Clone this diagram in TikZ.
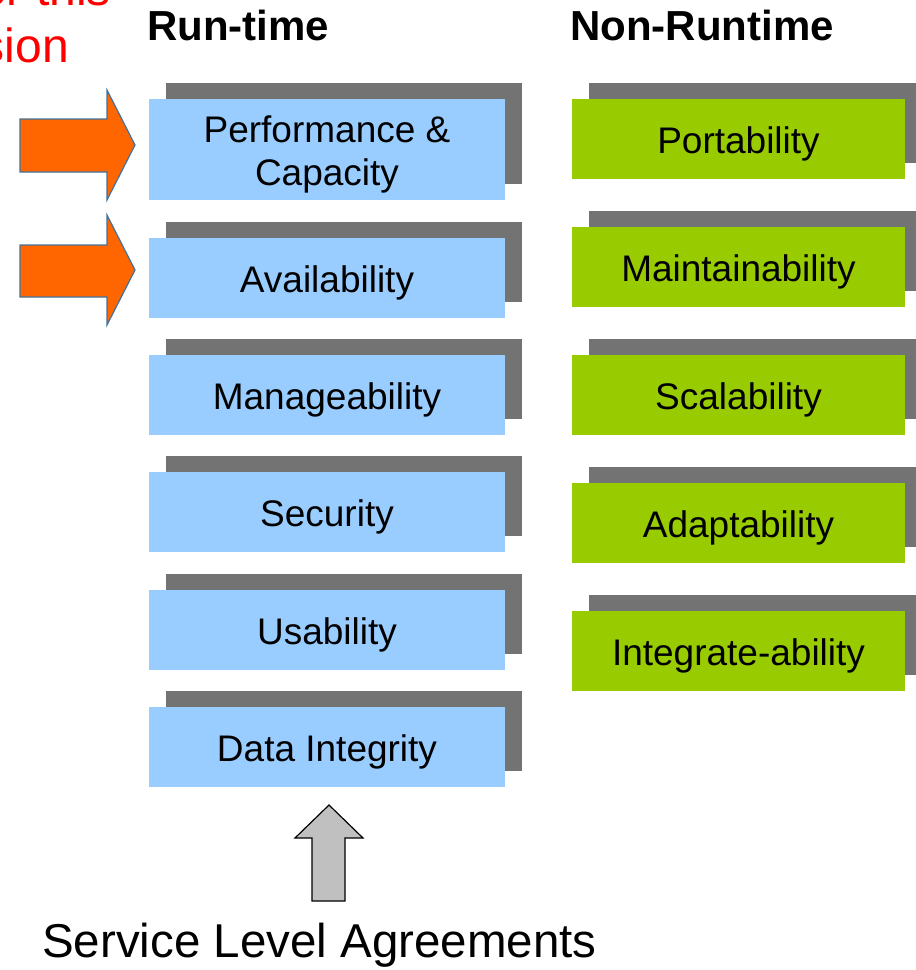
\documentclass[tikz,border=0pt]{standalone}
\usepackage{fontspec}
\setmainfont{Liberation Sans}
\usetikzlibrary{shadows}
\definecolor{boxblue}{HTML}{99CCFF}
\definecolor{boxgreen}{HTML}{99CC00}
\definecolor{shadowgray}{HTML}{737373}
\definecolor{arroworange}{HTML}{FF6600}
\definecolor{arrowedge}{HTML}{41719C}
\definecolor{slagray}{HTML}{C0C0C0}
\tikzset{
  qbox/.style={inner sep=0pt, font=\fontsize{37}{43}\selectfont,
    text height=28pt, text depth=0pt,
    general shadow={fill=shadowgray, shadow xshift=17pt, shadow yshift=16pt}},
  runbox/.style={qbox, fill=boxblue, minimum width=356pt, minimum height=80pt},
  nonbox/.style={qbox, fill=boxgreen, minimum width=333pt, minimum height=80pt},
  heading/.style={anchor=base west, inner sep=0pt, font=\fontsize{42}{48}\bfseries\selectfont},
  focusarrow/.style={fill=arroworange, draw=arrowedge, line width=1.2pt, line join=miter},
  slaarrow/.style={fill=slagray, draw=black, line width=1.2pt},
  redtext/.style={anchor=base east, inner sep=0pt, text=red, font=\fontsize{48}{56}\selectfont}
}
\begin{document}
\begin{tikzpicture}[x=1pt,y=-1pt]
\useasboundingbox (0,0) rectangle (916,970);
% red caption (cropped by the page)
\node[redtext] (cap1) at (111,5) {Focus for this};
\node[redtext] (cap2) at (69,62) {session};
% headings
\node[heading] (hrun) at (147,40) {Run-time};
\node[heading] (hnon) at (570,40) {Non-Runtime};
% run-time boxes
\node[runbox, minimum height=101pt, text height=71pt] (perf) at (327,149.5)
  {\parbox[b]{340pt}{\centering Performance \&\\Capacity}};
\node[runbox] (avail) at (327,278) {Availability};
\node[runbox] (manage) at (327,395) {Manageability};
\node[runbox] (secur) at (327,512) {Security};
\node[runbox] (usab) at (327,630) {Usability};
\node[runbox] (dataint) at (327,747) {Data Integrity};
% non-runtime boxes
\node[nonbox] (port) at (738.5,139) {Portability};
\node[nonbox] (maint) at (738.5,267) {Maintainability};
\node[nonbox] (scal) at (738.5,395) {Scalability};
\node[nonbox] (adapt) at (738.5,523) {Adaptability};
\node[nonbox] (integ) at (738.5,651) {Integrate-ability};
% orange focus arrows
\draw[focusarrow] (20,119) -- (107,119) -- (107,90) -- (135,145) -- (107,200) -- (107,172) -- (20,172) -- cycle;
\draw[focusarrow] (20,245) -- (107,245) -- (107,215) -- (135,270) -- (107,325) -- (107,297) -- (20,297) -- cycle;
% SLA arrow
\draw[slaarrow] (312,901) -- (312,838) -- (295,838) -- (329,805) -- (363,838) -- (345,838) -- (345,901) -- cycle;
\node[anchor=base west, inner sep=0pt, font=\fontsize{47.5}{54}\selectfont] (sla) at (42,957) {Service Level Agreements};
\end{tikzpicture}
\end{document}
